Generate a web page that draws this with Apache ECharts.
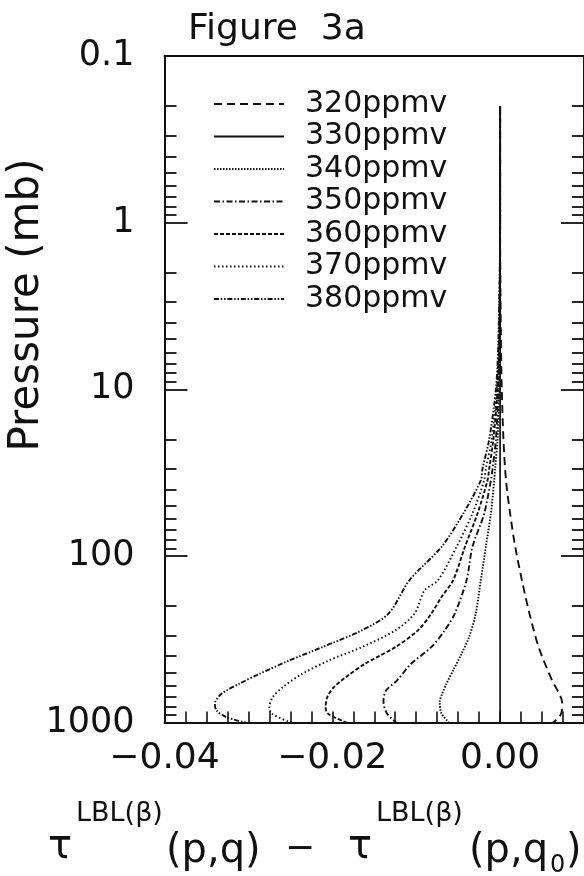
<!DOCTYPE html>
<html>
<head>
<meta charset="utf-8">
<script src="https://cdn.jsdelivr.net/npm/echarts@6/dist/echarts.min.js"></script>
<style>
html,body{margin:0;padding:0;background:#fff;}
#chart{width:584px;height:876px;}
</style>
</head>
<body>
<div id="chart"></div>
<script>
// ---- data (pressure in mb, difference in transmittance) ----
const seriesNames = ['320ppmv','330ppmv','340ppmv','350ppmv','360ppmv','370ppmv','380ppmv'];

const p320 = [0.2, 1, 5, 10, 20, 35, 56, 88, 140, 222, 353, 560, 650, 760, 830, 920, 1000];
const v320 = [0, 0, 0.0001, 0.0002, 0.0004, 0.0007, 0.0012, 0.0018, 0.0026, 0.0035, 0.0046, 0.0062, 0.0069, 0.0074, 0.0074, 0.0071, 0.0063];

const p330 = [0.2, 1000];
const v330 = [0, 0];

const p340 = [0.2, 1, 5, 10, 20, 30, 35.2, 55.8, 88.5, 140, 222, 307, 387, 487, 586, 673, 750, 880, 1000];
const v340 = [0, 0, -0.00004, -0.0001, -0.0003, -0.0006, -0.0007, -0.0011, -0.0017, -0.0023, -0.0029, -0.0037, -0.0046, -0.0056, -0.0064, -0.0069, -0.0072, -0.0070, -0.0061];

const p350 = [0.2, 1, 5, 10, 20, 30, 35.2, 55.8, 88.5, 140, 222, 280, 353, 444, 560, 643, 750, 880, 1000];
const v350 = [0, 0, -0.00007, -0.0002, -0.0005, -0.0009, -0.0011, -0.0019, -0.0033, -0.0040, -0.0054, -0.0066, -0.0082, -0.0106, -0.0123, -0.0136, -0.0139, -0.0135, -0.0124];

const p360 = [0.2, 1, 5, 10, 20, 30, 35.2, 55.8, 88.5, 140, 177, 222, 280, 353, 444, 535, 614, 705, 809, 887, 1000];
const v360 = [0, 0, -0.0001, -0.0003, -0.0008, -0.0013, -0.0015, -0.0027, -0.0042, -0.0056, -0.0070, -0.0082, -0.0098, -0.0125, -0.0161, -0.0184, -0.0198, -0.0206, -0.0208, -0.0205, -0.0183];

const p370 = [0.2, 1, 5, 10, 20, 30, 35.2, 55.8, 88.5, 140, 161, 222, 280, 353, 424, 511, 614, 705, 809, 887, 1000];
const v370 = [0, 0, -0.00015, -0.0004, -0.0010, -0.0017, -0.0019, -0.0033, -0.0052, -0.0074, -0.0090, -0.0102, -0.0125, -0.0165, -0.0204, -0.0236, -0.0259, -0.0271, -0.0275, -0.0272, -0.0249];

const p380 = [0.2, 1, 5, 10, 20, 30, 35.2, 55.8, 88.5, 140, 222, 280, 353, 424, 511, 586, 673, 773, 847, 929, 1000];
const v380 = [0, 0, -0.0002, -0.0005, -0.0013, -0.0021, -0.0023, -0.0044, -0.0070, -0.0108, -0.0133, -0.0165, -0.0212, -0.0251, -0.0287, -0.0311, -0.0332, -0.0340, -0.0338, -0.0326, -0.0303];

// ---- axis ticks ----
const xLabelValues = [-0.04, -0.02, 0.00];
const xTickValues = [-0.04, -0.0375, -0.035, -0.0325, -0.03, -0.0275, -0.025, -0.0225, -0.02, -0.0175, -0.015, -0.0125, -0.01, -0.0075, -0.005, -0.0025, 0, 0.0025, 0.005, 0.0075, 0.01];
const yMajorValues = [0.1, 1, 10, 100, 1000];
const yMinorValues = [0.2, 0.3, 0.4, 0.5, 0.6, 0.7, 0.8, 0.9, 2, 3, 4, 5, 6, 7, 8, 9, 20, 30, 40, 50, 60, 70, 80, 90, 200, 300, 400, 500, 600, 700, 800, 900];

const pressures = [p320, p330, p340, p350, p360, p370, p380];
const values = [v320, v330, v340, v350, v360, v370, v380];
const dashes = [[8, 5], 'solid', [1.5, 1.5], [6, 2.5, 1.5, 2.5], [4, 2], [1.5, 2.5], [5, 1.8, 1.5, 1.8, 1.5, 1.8]];

const INK = '#111';
const FONT = 'DejaVu Sans';

const chart = echarts.init(document.getElementById('chart'), null, {renderer: 'canvas'});

const series = seriesNames.map((name, i) => ({
  name: name,
  type: 'line',
  xAxisIndex: 0,
  yAxisIndex: 0,
  showSymbol: false,
  symbol: 'none',
  smooth: 0.3,
  silent: true,
  animation: false,
  itemStyle: {color: INK, opacity: 0},
  lineStyle: {color: INK, width: i === 1 ? 1.7 : 1.9, type: dashes[i], opacity: 1},
  data: pressures[i].map((p, k) => [values[i][k], p])
}));

const fmtX = v => {
  if (Math.abs(v) < 1e-9) return '0.00';
  return (v < 0 ? '\u2212' : '') + Math.abs(v).toFixed(2);
};

const logAxisBase = {
  type: 'log', logBase: 10, min: 0.1, max: 1000, inverse: true,
  splitLine: {show: false}, minorSplitLine: {show: false}
};

const option = {
  backgroundColor: '#fff',
  animation: false,
  color: [INK],
  title: {
    text: 'Figure  3a', left: 188, top: 12, padding: 0,
    textStyle: {fontFamily: FONT, fontSize: 36, fontWeight: 'normal', color: INK}
  },
  grid: {left: 164.5, top: 56, width: 422.5, height: 666.5, containLabel: false},
  legend: {
    orient: 'vertical', left: 208, top: 84,
    itemWidth: 70, itemHeight: 30, itemGap: 2.5,
    data: seriesNames,
    selectedMode: false,
    itemStyle: {opacity: 0},
    textStyle: {fontFamily: FONT, fontSize: 30, lineHeight: 30, color: INK, padding: [0, 0, 0, 16]}
  },
  xAxis: [
    {
      type: 'value', min: -0.04, max: 0.01, position: 'bottom',
      axisLine: {show: true, onZero: false, lineStyle: {color: INK, width: 2}},
      axisTick: {show: true, inside: true, length: 11, customValues: xTickValues, lineStyle: {color: INK, width: 1.6}},
      axisLabel: {customValues: xLabelValues, formatter: fmtX, fontFamily: FONT, fontSize: 36, color: INK, margin: 18},
      splitLine: {show: false}
    },
    {
      type: 'value', min: -0.04, max: 0.01, position: 'top',
      axisLine: {show: true, onZero: false, lineStyle: {color: INK, width: 2}},
      axisTick: {show: false}, axisLabel: {show: false}, splitLine: {show: false}
    }
  ],
  yAxis: [
    Object.assign({}, logAxisBase, {
      position: 'left',
      axisLine: {show: true, onZero: false, lineStyle: {color: INK, width: 2}},
      axisTick: {show: true, inside: true, length: 23, customValues: yMajorValues, lineStyle: {color: INK, width: 1.8}},
      axisLabel: {customValues: yMajorValues, formatter: v => String(+v.toPrecision(3)), fontFamily: FONT, fontSize: 35, color: INK, margin: 30}
    }),
    Object.assign({}, logAxisBase, {
      position: 'left',
      axisLine: {show: false, onZero: false},
      axisTick: {show: true, inside: true, length: 12, customValues: yMinorValues, lineStyle: {color: INK, width: 1.8}},
      axisLabel: {show: false}
    }),
    Object.assign({}, logAxisBase, {
      position: 'right',
      axisLine: {show: true, onZero: false, lineStyle: {color: INK, width: 2}},
      axisTick: {show: true, inside: true, length: 23, customValues: yMajorValues, lineStyle: {color: INK, width: 1.8}},
      axisLabel: {show: false}
    }),
    Object.assign({}, logAxisBase, {
      position: 'right',
      axisLine: {show: false, onZero: false},
      axisTick: {show: true, inside: true, length: 12, customValues: yMinorValues, lineStyle: {color: INK, width: 1.8}},
      axisLabel: {show: false}
    })
  ],
  graphic: [
    {type: 'text', x: 27, y: 305, rotation: Math.PI / 2,
     style: {text: 'Pressure (mb)', fontFamily: FONT, fontSize: 42, fill: INK, textAlign: 'center', textVerticalAlign: 'middle'}},
    {type: 'text', x: 48, y: 848, style: {text: '\u03c4', fontFamily: FONT, fontSize: 40, fill: INK, textVerticalAlign: 'middle'}},
    {type: 'text', x: 76, y: 814, style: {text: 'LBL(\u03b2)', fontFamily: FONT, fontSize: 27, fill: INK, textVerticalAlign: 'middle'}},
    {type: 'text', x: 166, y: 852, style: {text: '(p,q)', fontFamily: FONT, fontSize: 40, fill: INK, textVerticalAlign: 'middle'}},
    {type: 'text', x: 285, y: 850, style: {text: '\u2212', fontFamily: FONT, fontSize: 36, fill: INK, textVerticalAlign: 'middle'}},
    {type: 'text', x: 348, y: 848, style: {text: '\u03c4', fontFamily: FONT, fontSize: 40, fill: INK, textVerticalAlign: 'middle'}},
    {type: 'text', x: 376, y: 814, style: {text: 'LBL(\u03b2)', fontFamily: FONT, fontSize: 27, fill: INK, textVerticalAlign: 'middle'}},
    {type: 'text', x: 469, y: 852, style: {text: '(p,q', fontFamily: FONT, fontSize: 40, fill: INK, textVerticalAlign: 'middle'}},
    {type: 'text', x: 550, y: 866, style: {text: '0', fontFamily: FONT, fontSize: 24, fill: INK, textVerticalAlign: 'middle'}},
    {type: 'text', x: 566, y: 852, style: {text: ')', fontFamily: FONT, fontSize: 40, fill: INK, textVerticalAlign: 'middle'}}
  ],
  series: series
};

chart.setOption(option);
</script>
</body>
</html>
